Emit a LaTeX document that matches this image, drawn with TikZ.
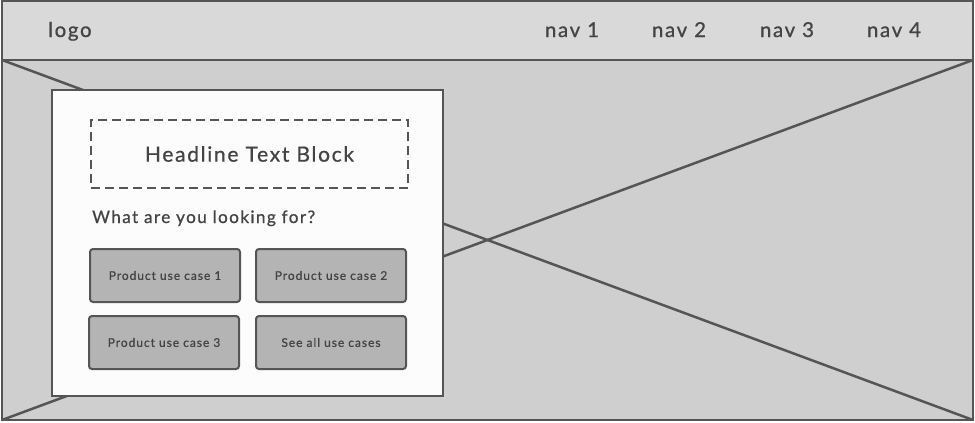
\documentclass[tikz,border=0pt]{standalone}
\usepackage{fontspec}
\setmainfont{Lato}
\newfontfamily\wffont{Lato}[LetterSpace=8,FakeBold=0.8]
\definecolor{edge}{HTML}{555555}
\definecolor{headfill}{HTML}{D9D9D9}
\definecolor{bodyfill}{HTML}{CFCFCF}
\definecolor{cardfill}{HTML}{FBFCFB}
\definecolor{btnfill}{HTML}{B4B4B4}
\definecolor{ink}{HTML}{444444}
\begin{document}
\begin{tikzpicture}[x=1pt,y=-1pt,
  box/.style={draw=edge, line width=2pt, anchor=north west, inner sep=0pt, outer sep=0pt},
  btn/.style={box, fill=btnfill, rounded corners=3pt, minimum width=150pt, minimum height=53pt, font=\wffont\fontsize{12}{14}\selectfont, text=ink},
  navtext/.style={font=\wffont\fontsize{20.5}{23}\selectfont, text=ink, inner sep=0pt, anchor=base},
  diag/.style={draw=edge, line width=2.5pt}]
\useasboundingbox (0,0) rectangle (975,423);
\fill[white] (0,0) rectangle (975,423);
\node[box, fill=headfill, minimum width=971pt, minimum height=59pt] (head) at (2,1) {};
\node[box, fill=bodyfill, minimum width=971pt, minimum height=360pt] (body) at (2,60) {};
\draw[diag] (body.north west) -- (body.south east);
\draw[diag] (body.north east) -- (body.south west);
\node[box, fill=cardfill, minimum width=391pt, minimum height=306pt] (card) at (52,90) {};
\node[box, draw=edge, line width=2.5pt, dash pattern=on 9pt off 5pt, minimum width=317pt, minimum height=68pt, font=\wffont\fontsize{21}{24}\selectfont, text=ink] (headline) at (91,120) {Headline Text Block};
\node[anchor=base west, inner sep=0pt, font=\wffont\fontsize{17.2}{20}\selectfont, text=ink] (question) at (92,223) {What are you looking for?};
\node[btn] (b1) at (90,249) {Product use case 1};
\node[btn] (b2) at (256,249) {Product use case 2};
\node[btn] (b3) at (89,316) {Product use case 3};
\node[btn] (b4) at (256,316) {See all use cases};
\node[navtext, anchor=base west] (logo) at (48,37) {logo};
\node[navtext] (nav1) at (572,37) {nav 1};
\node[navtext] (nav2) at (679,37) {nav 2};
\node[navtext] (nav3) at (787,37) {nav 3};
\node[navtext] (nav4) at (894,37) {nav 4};
\end{tikzpicture}
\end{document}
